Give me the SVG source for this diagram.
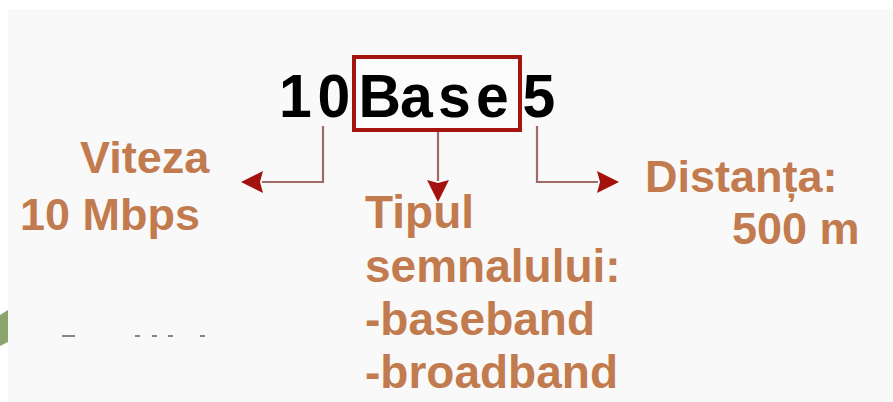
<svg xmlns="http://www.w3.org/2000/svg" width="893" height="402" viewBox="0 0 893 402">
  <style>
    .lbl { font-family: "Liberation Sans", Arial, sans-serif; font-weight: bold; font-size: 45px; fill: #c27b4e; }
    .big { font-size: 46px; }
    .title { font-family: "Liberation Sans", Arial, sans-serif; font-weight: bold; font-size: 62px; fill: #000000; }
    .conn { fill: none; stroke: #a06a66; stroke-width: 2.2; }
  </style>
  <defs>
    <marker id="arrow" viewBox="0 0 22 22" refX="1" refY="11" markerWidth="22" markerHeight="22" markerUnits="userSpaceOnUse" orient="auto">
      <path d="M0,0 L22,11 L0,22 L3,11 Z" fill="#a3120e"/>
    </marker>
  </defs>
  <rect x="0" y="0" width="893" height="402" fill="#ffffff"/>
  <rect x="8" y="9" width="885" height="393" fill="#f9f9f9"/>
  <polygon points="0,315 8,310 8,342 0,346" fill="#8aa56c"/>
  <g fill="#6a6a6a" opacity="0.8">
    <rect x="62" y="335" width="13" height="2"/>
    <rect x="135" y="335" width="5" height="2"/>
    <rect x="152" y="335" width="5" height="2"/>
    <rect x="168" y="335" width="5" height="2"/>
    <rect x="200" y="335" width="5" height="2"/>
  </g>

  <g id="title">
    <rect x="354" y="57" width="166" height="73" fill="#ffffff" fill-opacity="0.4" stroke="#a5150f" stroke-width="4"/>
    <text class="title" transform="scale(0.95,1)" x="293.7 334.2 377.4 421.1 461.1 501.1 550" y="117">10Base5</text>
  </g>

  <g id="connectors">
    <polyline class="conn" points="323,126 323,182 262,182" marker-end="url(#arrow)"/>
    <polyline class="conn" points="438,132 438,181" marker-end="url(#arrow)"/>
    <polyline class="conn" points="537,126 537,182 598,182" marker-end="url(#arrow)"/>
  </g>

  <g id="viteza">
    <text class="lbl" x="80" y="173">Viteza</text>
    <text class="lbl" x="20" y="230">10 Mbps</text>
  </g>

  <g id="tipul">
    <text class="lbl big" x="365" y="228">Tipul</text>
    <text class="lbl big" x="365" y="282">semnalului:</text>
    <text class="lbl big" x="365" y="335">-baseband</text>
    <text class="lbl big" x="365" y="388">-broadband</text>
  </g>

  <g id="distanta">
    <text class="lbl" x="645" y="192">Distanța:</text>
    <text class="lbl" x="732" y="244">500 m</text>
  </g>
</svg>
